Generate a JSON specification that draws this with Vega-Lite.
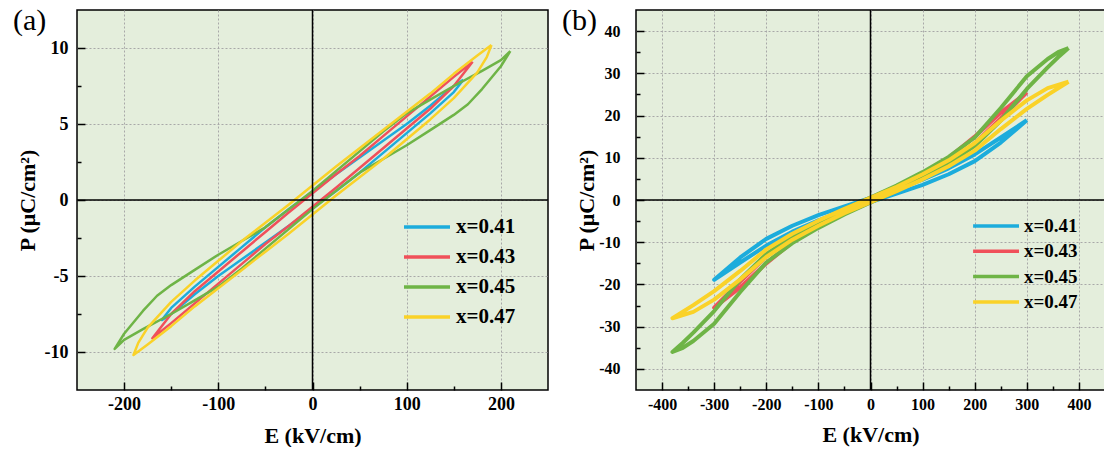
{
  "$schema": "https://vega.github.io/schema/vega-lite/v6.json",
  "autosize": {"type": "pad"},
  "padding": {"left": 12, "top": 5, "right": 0, "bottom": 0},
  "background": "white",
  "bounds": "flush",
  "spacing": 88,
  "config": {
    "view": {"stroke": "black", "strokeWidth": 1.5, "fill": "#e4eedc"},
    "axis": {
      "domain": false, "tickColor": "black", "tickWidth": 1.5,
      "labelFont": "Liberation Serif", "labelFontWeight": "bold", "labelColor": "black",
      "titleFont": "Liberation Serif", "titleFontWeight": "bold", "titleFontSize": 22, "titleColor": "black",
      "gridColor": "#a8a8a8", "gridDash": [2, 2], "gridWidth": 1
    },
    "legend": {
      "labelFont": "Liberation Serif", "labelFontWeight": "bold", "labelColor": "black",
      "padding": 0, "title": null
    },
    "title": {"font": "Liberation Serif", "fontWeight": "normal", "color": "black"}
  },
  "datasets": {
    "a": [
      {"s":"x=0.41","i":0,"E":160,"P":7.9},{"s":"x=0.41","i":1,"E":150,"P":7.5},{"s":"x=0.41","i":2,"E":125,"P":6.2},{"s":"x=0.41","i":3,"E":100,"P":5.0},{"s":"x=0.41","i":4,"E":75,"P":3.9},{"s":"x=0.41","i":5,"E":50,"P":2.8},{"s":"x=0.41","i":6,"E":25,"P":1.7},{"s":"x=0.41","i":7,"E":0,"P":0.55},{"s":"x=0.41","i":8,"E":-25,"P":-0.6},{"s":"x=0.41","i":9,"E":-50,"P":-1.8},{"s":"x=0.41","i":10,"E":-75,"P":-3.1},{"s":"x=0.41","i":11,"E":-100,"P":-4.4},{"s":"x=0.41","i":12,"E":-125,"P":-5.7},{"s":"x=0.41","i":13,"E":-150,"P":-7.1},{"s":"x=0.41","i":14,"E":-160,"P":-7.9},{"s":"x=0.41","i":15,"E":-150,"P":-7.5},{"s":"x=0.41","i":16,"E":-125,"P":-6.2},{"s":"x=0.41","i":17,"E":-100,"P":-5.0},{"s":"x=0.41","i":18,"E":-75,"P":-3.9},{"s":"x=0.41","i":19,"E":-50,"P":-2.8},{"s":"x=0.41","i":20,"E":-25,"P":-1.7},{"s":"x=0.41","i":21,"E":0,"P":-0.55},{"s":"x=0.41","i":22,"E":25,"P":0.6},{"s":"x=0.41","i":23,"E":50,"P":1.8},{"s":"x=0.41","i":24,"E":75,"P":3.1},{"s":"x=0.41","i":25,"E":100,"P":4.4},{"s":"x=0.41","i":26,"E":125,"P":5.7},{"s":"x=0.41","i":27,"E":150,"P":7.1},{"s":"x=0.41","i":28,"E":160,"P":7.9},
      {"s":"x=0.43","i":0,"E":170,"P":9.1},{"s":"x=0.43","i":1,"E":150,"P":8.1},{"s":"x=0.43","i":2,"E":125,"P":6.8},{"s":"x=0.43","i":3,"E":100,"P":5.5},{"s":"x=0.43","i":4,"E":75,"P":4.2},{"s":"x=0.43","i":5,"E":50,"P":2.9},{"s":"x=0.43","i":6,"E":25,"P":1.7},{"s":"x=0.43","i":7,"E":0,"P":0.45},{"s":"x=0.43","i":8,"E":-25,"P":-0.8},{"s":"x=0.43","i":9,"E":-50,"P":-2.1},{"s":"x=0.43","i":10,"E":-75,"P":-3.4},{"s":"x=0.43","i":11,"E":-100,"P":-4.7},{"s":"x=0.43","i":12,"E":-125,"P":-6.0},{"s":"x=0.43","i":13,"E":-150,"P":-7.5},{"s":"x=0.43","i":14,"E":-170,"P":-9.1},{"s":"x=0.43","i":15,"E":-150,"P":-8.1},{"s":"x=0.43","i":16,"E":-125,"P":-6.8},{"s":"x=0.43","i":17,"E":-100,"P":-5.5},{"s":"x=0.43","i":18,"E":-75,"P":-4.2},{"s":"x=0.43","i":19,"E":-50,"P":-2.9},{"s":"x=0.43","i":20,"E":-25,"P":-1.7},{"s":"x=0.43","i":21,"E":0,"P":-0.45},{"s":"x=0.43","i":22,"E":25,"P":0.8},{"s":"x=0.43","i":23,"E":50,"P":2.1},{"s":"x=0.43","i":24,"E":75,"P":3.4},{"s":"x=0.43","i":25,"E":100,"P":4.7},{"s":"x=0.43","i":26,"E":125,"P":6.0},{"s":"x=0.43","i":27,"E":150,"P":7.5},{"s":"x=0.43","i":28,"E":170,"P":9.1},
      {"s":"x=0.45","i":0,"E":210,"P":9.8},{"s":"x=0.45","i":1,"E":200,"P":9.2},{"s":"x=0.45","i":2,"E":180,"P":8.5},{"s":"x=0.45","i":3,"E":150,"P":7.5},{"s":"x=0.45","i":4,"E":125,"P":6.6},{"s":"x=0.45","i":5,"E":100,"P":5.7},{"s":"x=0.45","i":6,"E":75,"P":4.5},{"s":"x=0.45","i":7,"E":50,"P":3.2},{"s":"x=0.45","i":8,"E":25,"P":1.9},{"s":"x=0.45","i":9,"E":0,"P":0.6},{"s":"x=0.45","i":10,"E":-25,"P":-0.6},{"s":"x=0.45","i":11,"E":-50,"P":-1.8},{"s":"x=0.45","i":12,"E":-75,"P":-2.7},{"s":"x=0.45","i":13,"E":-100,"P":-3.6},{"s":"x=0.45","i":14,"E":-125,"P":-4.6},{"s":"x=0.45","i":15,"E":-150,"P":-5.6},{"s":"x=0.45","i":16,"E":-165,"P":-6.3},{"s":"x=0.45","i":17,"E":-180,"P":-7.3},{"s":"x=0.45","i":18,"E":-200,"P":-8.8},{"s":"x=0.45","i":19,"E":-210,"P":-9.8},{"s":"x=0.45","i":20,"E":-200,"P":-9.2},{"s":"x=0.45","i":21,"E":-180,"P":-8.5},{"s":"x=0.45","i":22,"E":-150,"P":-7.5},{"s":"x=0.45","i":23,"E":-125,"P":-6.6},{"s":"x=0.45","i":24,"E":-100,"P":-5.7},{"s":"x=0.45","i":25,"E":-75,"P":-4.5},{"s":"x=0.45","i":26,"E":-50,"P":-3.2},{"s":"x=0.45","i":27,"E":-25,"P":-1.9},{"s":"x=0.45","i":28,"E":0,"P":-0.6},{"s":"x=0.45","i":29,"E":25,"P":0.6},{"s":"x=0.45","i":30,"E":50,"P":1.8},{"s":"x=0.45","i":31,"E":75,"P":2.7},{"s":"x=0.45","i":32,"E":100,"P":3.6},{"s":"x=0.45","i":33,"E":125,"P":4.6},{"s":"x=0.45","i":34,"E":150,"P":5.6},{"s":"x=0.45","i":35,"E":165,"P":6.3},{"s":"x=0.45","i":36,"E":180,"P":7.3},{"s":"x=0.45","i":37,"E":200,"P":8.8},{"s":"x=0.45","i":38,"E":210,"P":9.8},
      {"s":"x=0.47","i":0,"E":190,"P":10.2},{"s":"x=0.47","i":1,"E":175,"P":9.5},{"s":"x=0.47","i":2,"E":150,"P":8.3},{"s":"x=0.47","i":3,"E":125,"P":7.0},{"s":"x=0.47","i":4,"E":100,"P":5.8},{"s":"x=0.47","i":5,"E":75,"P":4.6},{"s":"x=0.47","i":6,"E":50,"P":3.4},{"s":"x=0.47","i":7,"E":25,"P":2.2},{"s":"x=0.47","i":8,"E":0,"P":0.95},{"s":"x=0.47","i":9,"E":-25,"P":-0.3},{"s":"x=0.47","i":10,"E":-50,"P":-1.5},{"s":"x=0.47","i":11,"E":-75,"P":-2.7},{"s":"x=0.47","i":12,"E":-100,"P":-4.0},{"s":"x=0.47","i":13,"E":-125,"P":-5.3},{"s":"x=0.47","i":14,"E":-150,"P":-6.7},{"s":"x=0.47","i":15,"E":-175,"P":-8.4},{"s":"x=0.47","i":16,"E":-185,"P":-9.4},{"s":"x=0.47","i":17,"E":-190,"P":-10.2},{"s":"x=0.47","i":18,"E":-175,"P":-9.5},{"s":"x=0.47","i":19,"E":-150,"P":-8.3},{"s":"x=0.47","i":20,"E":-125,"P":-7.0},{"s":"x=0.47","i":21,"E":-100,"P":-5.8},{"s":"x=0.47","i":22,"E":-75,"P":-4.6},{"s":"x=0.47","i":23,"E":-50,"P":-3.4},{"s":"x=0.47","i":24,"E":-25,"P":-2.2},{"s":"x=0.47","i":25,"E":0,"P":-0.95},{"s":"x=0.47","i":26,"E":25,"P":0.3},{"s":"x=0.47","i":27,"E":50,"P":1.5},{"s":"x=0.47","i":28,"E":75,"P":2.7},{"s":"x=0.47","i":29,"E":100,"P":4.0},{"s":"x=0.47","i":30,"E":125,"P":5.3},{"s":"x=0.47","i":31,"E":150,"P":6.7},{"s":"x=0.47","i":32,"E":175,"P":8.4},{"s":"x=0.47","i":33,"E":185,"P":9.4},{"s":"x=0.47","i":34,"E":190,"P":10.2}
    ],
    "b": [
      {"s":"x=0.41","i":0,"E":300,"P":18.9},{"s":"x=0.41","i":1,"E":250,"P":14.8},{"s":"x=0.41","i":2,"E":200,"P":10.8},{"s":"x=0.41","i":3,"E":150,"P":7.5},{"s":"x=0.41","i":4,"E":100,"P":4.8},{"s":"x=0.41","i":5,"E":50,"P":2.5},{"s":"x=0.41","i":6,"E":0,"P":0.5},{"s":"x=0.41","i":7,"E":-50,"P":-1.5},{"s":"x=0.41","i":8,"E":-100,"P":-3.6},{"s":"x=0.41","i":9,"E":-150,"P":-6.1},{"s":"x=0.41","i":10,"E":-200,"P":-9.2},{"s":"x=0.41","i":11,"E":-250,"P":-13.6},{"s":"x=0.41","i":12,"E":-300,"P":-18.9},{"s":"x=0.41","i":13,"E":-250,"P":-14.8},{"s":"x=0.41","i":14,"E":-200,"P":-10.8},{"s":"x=0.41","i":15,"E":-150,"P":-7.5},{"s":"x=0.41","i":16,"E":-100,"P":-4.8},{"s":"x=0.41","i":17,"E":-50,"P":-2.5},{"s":"x=0.41","i":18,"E":0,"P":-0.5},{"s":"x=0.41","i":19,"E":50,"P":1.5},{"s":"x=0.41","i":20,"E":100,"P":3.6},{"s":"x=0.41","i":21,"E":150,"P":6.1},{"s":"x=0.41","i":22,"E":200,"P":9.2},{"s":"x=0.41","i":23,"E":250,"P":13.6},{"s":"x=0.41","i":24,"E":300,"P":18.9},
      {"s":"x=0.43","i":0,"E":300,"P":25.5},{"s":"x=0.43","i":1,"E":250,"P":20.7},{"s":"x=0.43","i":2,"E":200,"P":15.0},{"s":"x=0.43","i":3,"E":150,"P":10.0},{"s":"x=0.43","i":4,"E":100,"P":6.3},{"s":"x=0.43","i":5,"E":50,"P":3.2},{"s":"x=0.43","i":6,"E":0,"P":0.5},{"s":"x=0.43","i":7,"E":-50,"P":-2.2},{"s":"x=0.43","i":8,"E":-100,"P":-5.1},{"s":"x=0.43","i":9,"E":-150,"P":-8.6},{"s":"x=0.43","i":10,"E":-200,"P":-13.4},{"s":"x=0.43","i":11,"E":-250,"P":-19.3},{"s":"x=0.43","i":12,"E":-300,"P":-25.5},{"s":"x=0.43","i":13,"E":-250,"P":-20.7},{"s":"x=0.43","i":14,"E":-200,"P":-15.0},{"s":"x=0.43","i":15,"E":-150,"P":-10.0},{"s":"x=0.43","i":16,"E":-100,"P":-6.3},{"s":"x=0.43","i":17,"E":-50,"P":-3.2},{"s":"x=0.43","i":18,"E":0,"P":-0.5},{"s":"x=0.43","i":19,"E":50,"P":2.2},{"s":"x=0.43","i":20,"E":100,"P":5.1},{"s":"x=0.43","i":21,"E":150,"P":8.6},{"s":"x=0.43","i":22,"E":200,"P":13.4},{"s":"x=0.43","i":23,"E":250,"P":19.3},{"s":"x=0.43","i":24,"E":300,"P":25.5},
      {"s":"x=0.45","i":0,"E":380,"P":36.0},{"s":"x=0.45","i":1,"E":360,"P":35.0},{"s":"x=0.45","i":2,"E":340,"P":33.4},{"s":"x=0.45","i":3,"E":300,"P":29.3},{"s":"x=0.45","i":4,"E":250,"P":21.8},{"s":"x=0.45","i":5,"E":200,"P":14.8},{"s":"x=0.45","i":6,"E":150,"P":10.2},{"s":"x=0.45","i":7,"E":100,"P":6.6},{"s":"x=0.45","i":8,"E":50,"P":3.4},{"s":"x=0.45","i":9,"E":0,"P":0.6},{"s":"x=0.45","i":10,"E":-50,"P":-2.2},{"s":"x=0.45","i":11,"E":-100,"P":-5.2},{"s":"x=0.45","i":12,"E":-150,"P":-8.6},{"s":"x=0.45","i":13,"E":-200,"P":-12.8},{"s":"x=0.45","i":14,"E":-250,"P":-18.8},{"s":"x=0.45","i":15,"E":-300,"P":-26.3},{"s":"x=0.45","i":16,"E":-340,"P":-31.4},{"s":"x=0.45","i":17,"E":-360,"P":-33.8},{"s":"x=0.45","i":18,"E":-380,"P":-36.0},{"s":"x=0.45","i":19,"E":-360,"P":-35.0},{"s":"x=0.45","i":20,"E":-340,"P":-33.4},{"s":"x=0.45","i":21,"E":-300,"P":-29.3},{"s":"x=0.45","i":22,"E":-250,"P":-21.8},{"s":"x=0.45","i":23,"E":-200,"P":-14.8},{"s":"x=0.45","i":24,"E":-150,"P":-10.2},{"s":"x=0.45","i":25,"E":-100,"P":-6.6},{"s":"x=0.45","i":26,"E":-50,"P":-3.4},{"s":"x=0.45","i":27,"E":0,"P":-0.6},{"s":"x=0.45","i":28,"E":50,"P":2.2},{"s":"x=0.45","i":29,"E":100,"P":5.2},{"s":"x=0.45","i":30,"E":150,"P":8.6},{"s":"x=0.45","i":31,"E":200,"P":12.8},{"s":"x=0.45","i":32,"E":250,"P":18.8},{"s":"x=0.45","i":33,"E":300,"P":26.3},{"s":"x=0.45","i":34,"E":340,"P":31.4},{"s":"x=0.45","i":35,"E":360,"P":33.8},{"s":"x=0.45","i":36,"E":380,"P":36.0},
      {"s":"x=0.47","i":0,"E":380,"P":28.0},{"s":"x=0.47","i":1,"E":340,"P":26.5},{"s":"x=0.47","i":2,"E":300,"P":23.6},{"s":"x=0.47","i":3,"E":250,"P":18.8},{"s":"x=0.47","i":4,"E":200,"P":13.5},{"s":"x=0.47","i":5,"E":150,"P":9.4},{"s":"x=0.47","i":6,"E":100,"P":6.1},{"s":"x=0.47","i":7,"E":50,"P":3.1},{"s":"x=0.47","i":8,"E":0,"P":0.5},{"s":"x=0.47","i":9,"E":-50,"P":-2.1},{"s":"x=0.47","i":10,"E":-100,"P":-4.9},{"s":"x=0.47","i":11,"E":-150,"P":-8.0},{"s":"x=0.47","i":12,"E":-200,"P":-11.7},{"s":"x=0.47","i":13,"E":-250,"P":-16.8},{"s":"x=0.47","i":14,"E":-300,"P":-21.6},{"s":"x=0.47","i":15,"E":-340,"P":-24.9},{"s":"x=0.47","i":16,"E":-380,"P":-28.0},{"s":"x=0.47","i":17,"E":-340,"P":-26.5},{"s":"x=0.47","i":18,"E":-300,"P":-23.6},{"s":"x=0.47","i":19,"E":-250,"P":-18.8},{"s":"x=0.47","i":20,"E":-200,"P":-13.5},{"s":"x=0.47","i":21,"E":-150,"P":-9.4},{"s":"x=0.47","i":22,"E":-100,"P":-6.1},{"s":"x=0.47","i":23,"E":-50,"P":-3.1},{"s":"x=0.47","i":24,"E":0,"P":-0.5},{"s":"x=0.47","i":25,"E":50,"P":2.1},{"s":"x=0.47","i":26,"E":100,"P":4.9},{"s":"x=0.47","i":27,"E":150,"P":8.0},{"s":"x=0.47","i":28,"E":200,"P":11.7},{"s":"x=0.47","i":29,"E":250,"P":16.8},{"s":"x=0.47","i":30,"E":300,"P":21.6},{"s":"x=0.47","i":31,"E":340,"P":24.9},{"s":"x=0.47","i":32,"E":380,"P":28.0}
    ]
  },
  "resolve": {"scale": {"color": "independent"}, "legend": {"color": "independent"}},
  "hconcat": [
    {
      "width": 471, "height": 380,
      "title": {"text": "(a)", "anchor": "start", "frame": "group", "orient": "top", "dx": -64, "dy": 27, "offset": 0, "baseline": "top", "fontSize": 30},
      "layer": [
        {
          "data": {"name": "a"},
          "mark": {"type": "line", "strokeWidth": 2.5, "strokeJoin": "round", "clip": true},
          "encoding": {
            "x": {"field": "E", "type": "quantitative", "scale": {"domain": [-250, 250], "nice": false, "zero": false},
                  "axis": {"values": [-200, -100, 0, 100, 200], "title": "E (kV/cm)", "tickSize": -8, "grid": true, "labelExpr": "'' + datum.value", "labelFontSize": 18, "labelPadding": 13, "titlePadding": 12}},
            "y": {"field": "P", "type": "quantitative", "scale": {"domain": [-12.5, 12.5], "nice": false, "zero": false},
                  "axis": {"values": [-10, -5, 0, 5, 10], "title": "P (μC/cm²)", "tickSize": -8, "grid": true, "labelExpr": "'' + datum.value", "labelFontSize": 18, "labelPadding": 17, "titlePadding": 5}},
            "color": {"field": "s", "type": "nominal",
                      "scale": {"domain": ["x=0.41", "x=0.43", "x=0.45", "x=0.47"], "range": ["#1cacdc", "#f0505a", "#6eb446", "#fad228"]},
                      "legend": {"orient": "none", "legendX": 351, "legendY": 205, "symbolType": "M-3.6,0H1", "symbolSize": 400, "symbolStrokeWidth": 3.5, "labelFontSize": 21, "rowPadding": 8, "labelOffset": 4}},
            "order": {"field": "i", "type": "quantitative"}
          }
        },
        {
          "data": {"values": [{}]},
          "mark": {"type": "rule", "color": "black", "strokeWidth": 1.5},
          "encoding": {"x": {"datum": 0, "type": "quantitative", "axis": {"orient": "bottom", "values": [-150, -50, 50, 150], "labels": false, "grid": false, "title": null, "tickSize": -4}}}
        },
        {
          "data": {"values": [{}]},
          "mark": {"type": "rule", "color": "black", "strokeWidth": 1.5},
          "encoding": {"y": {"datum": 0, "type": "quantitative", "axis": {"orient": "left", "values": [-7.5, -2.5, 2.5, 7.5], "labels": false, "grid": false, "title": null, "tickSize": -4}}}
        }
      ],
      "resolve": {"axis": {"x": "independent", "y": "independent"}}
    },
    {
      "width": 469, "height": 380,
      "title": {"text": "(b)", "anchor": "start", "frame": "group", "orient": "top", "dx": -74, "dy": 27, "offset": 0, "baseline": "top", "fontSize": 30},
      "layer": [
        {
          "data": {"name": "b"},
          "mark": {"type": "line", "strokeWidth": 4, "strokeJoin": "round", "clip": true},
          "encoding": {
            "x": {"field": "E", "type": "quantitative", "scale": {"domain": [-450, 450], "nice": false, "zero": false},
                  "axis": {"values": [-400, -300, -200, -100, 0, 100, 200, 300, 400], "title": "E (kV/cm)", "tickSize": -8, "grid": true, "labelExpr": "'' + datum.value", "labelFontSize": 16, "labelPadding": 14, "titlePadding": 12}},
            "y": {"field": "P", "type": "quantitative", "scale": {"domain": [-45, 45], "nice": false, "zero": false},
                  "axis": {"values": [-40, -30, -20, -10, 0, 10, 20, 30, 40], "title": "P (μC/cm²)", "tickSize": -8, "grid": true, "labelExpr": "'' + datum.value", "labelFontSize": 16, "labelPadding": 24, "titlePadding": 0}},
            "color": {"field": "s", "type": "nominal",
                      "scale": {"domain": ["x=0.41", "x=0.43", "x=0.45", "x=0.47"], "range": ["#1cacdc", "#f0505a", "#6eb446", "#fad228"]},
                      "legend": {"orient": "none", "legendX": 363, "legendY": 205, "symbolType": "M-4.1,0H1", "symbolSize": 324, "symbolStrokeWidth": 3.5, "labelFontSize": 19, "rowPadding": 4.3, "labelOffset": 3}},
            "order": {"field": "i", "type": "quantitative"}
          }
        },
        {
          "data": {"values": [{}]},
          "mark": {"type": "rule", "color": "black", "strokeWidth": 1.5},
          "encoding": {"x": {"datum": 0, "type": "quantitative", "axis": {"orient": "bottom", "values": [-350, -250, -150, -50, 50, 150, 250, 350], "labels": false, "grid": false, "title": null, "tickSize": -4}}}
        },
        {
          "data": {"values": [{}]},
          "mark": {"type": "rule", "color": "black", "strokeWidth": 1.5},
          "encoding": {"y": {"datum": 0, "type": "quantitative", "axis": {"orient": "left", "values": [-35, -25, -15, -5, 5, 15, 25, 35], "labels": false, "grid": false, "title": null, "tickSize": -4}}}
        }
      ],
      "resolve": {"axis": {"x": "independent", "y": "independent"}}
    }
  ]
}
